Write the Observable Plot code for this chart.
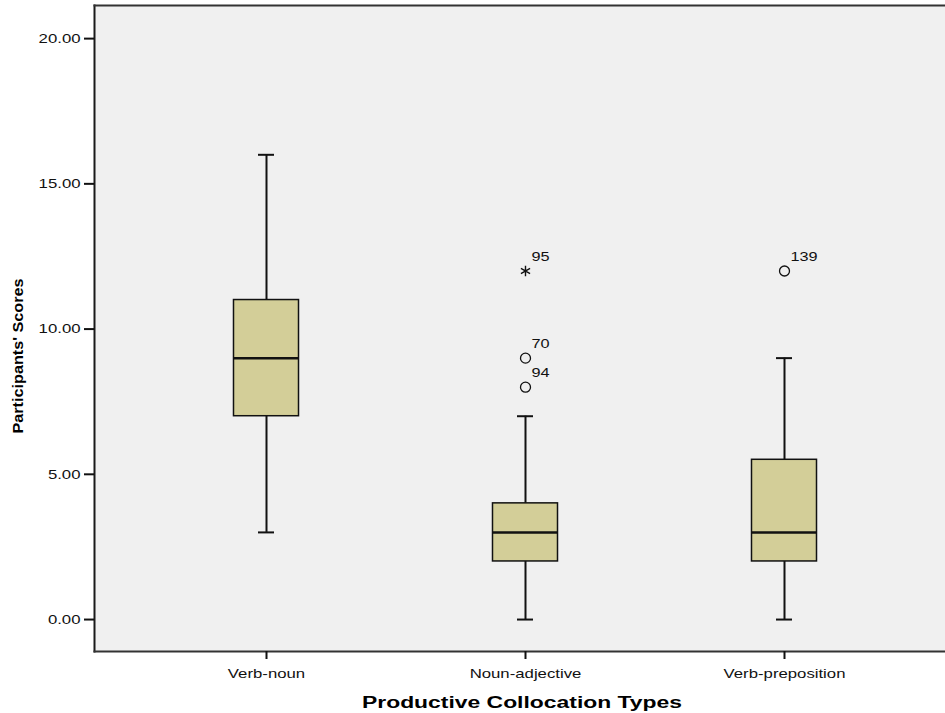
<!DOCTYPE html>
<html>
<head>
<meta charset="utf-8">
<script src="https://cdn.jsdelivr.net/npm/d3@7"></script>
<script src="https://cdn.jsdelivr.net/npm/@observablehq/plot@0.6"></script>
<style>
  html, body { margin: 0; padding: 0; background: #ffffff; }
  svg { display: block; }
</style>
</head>
<body>
<script>
// ---- data ----
const categories = ["Verb-noun", "Noun-adjective", "Verb-preposition"];
const whiskerLow = [3, 0, 0];
const quartile1 = [7, 2, 2];
const medians = [9, 3, 3];
const quartile3 = [11, 4, 5.5];
const whiskerHigh = [16, 7, 9];

const outlierCats = ["Noun-adjective", "Noun-adjective", "Noun-adjective", "Verb-preposition"];
const outlierValues = [12, 9, 8, 12];
const outlierIds = ["95", "70", "94", "139"];
const outlierKinds = ["extreme", "outlier", "outlier", "outlier"];

const yTicks = [0, 5, 10, 15, 20];
const xTitle = "Productive Collocation Types";
const yTitle = "Participants' Scores";

// tables built from the arrays
const stats = categories.map((c, i) => ({
  cat: c, lo: whiskerLow[i], q1: quartile1[i], med: medians[i], q3: quartile3[i], hi: whiskerHigh[i]
}));
const outliers = outlierCats.map((c, i) => ({
  cat: c, value: outlierValues[i], id: outlierIds[i], kind: outlierKinds[i]
}));
const circles = outliers.filter(d => d.kind === "outlier");
const extremes = outliers.filter(d => d.kind === "extreme");

const ink = "#111111";

const chart = Plot.plot({
  width: 945,
  height: 713,
  marginLeft: 94,
  marginRight: 0,
  marginTop: 5,
  marginBottom: 62,
  style: { fontFamily: "'Liberation Sans', Arial, sans-serif", background: "#ffffff", color: ink },
  x: {
    type: "band",
    domain: categories,
    range: [136.5, 913.5],
    paddingInner: 0.749,
    paddingOuter: 0.3745,
    round: false,
    label: null
  },
  y: { domain: [-1.10, 21.14], label: null },
  marks: [
    Plot.frame({ fill: "#f0f0f0" }),
    // whiskers
    Plot.ruleX(stats, { x: "cat", y1: "lo", y2: "q1", stroke: ink, strokeWidth: 2 }),
    Plot.ruleX(stats, { x: "cat", y1: "q3", y2: "hi", stroke: ink, strokeWidth: 2 }),
    Plot.tickY(stats, { x: "cat", y: "lo", stroke: ink, strokeWidth: 2, inset: 24.5 }),
    Plot.tickY(stats, { x: "cat", y: "hi", stroke: ink, strokeWidth: 2, inset: 24.5 }),
    // boxes
    Plot.barY(stats, { x: "cat", y1: "q1", y2: "q3", fill: "#d3ce98", stroke: ink, strokeWidth: 1.5 }),
    Plot.tickY(stats, { x: "cat", y: "med", stroke: ink, strokeWidth: 2.5 }),
    // outliers
    Plot.dot(circles, { x: "cat", y: "value", r: 5, stroke: ink, strokeWidth: 1.3, fill: "none" }),
    Plot.dot(extremes, { x: "cat", y: "value", r: 5, symbol: "asterisk", stroke: ink, strokeWidth: 1.4 }),
    Plot.text(outliers, {
      x: "cat", y: "value", text: "id", textAnchor: "start", lineAnchor: "bottom",
      dx: 6, dy: -10, fontSize: 12.5, fill: ink
    }),
    // frame borders (left, top, bottom)
    Plot.frame({ anchor: "left", stroke: "#1a1a1a", strokeWidth: 2 }),
    Plot.frame({ anchor: "top", stroke: "#333333", strokeWidth: 2 }),
    Plot.frame({ anchor: "bottom", stroke: "#333333", strokeWidth: 2 }),
    // axes
    Plot.axisY({
      ticks: yTicks, tickFormat: d => d.toFixed(2), tickSize: 10, tickPadding: 4,
      fontSize: 13.5, strokeWidth: 2, stroke: ink, label: null
    }),
    Plot.axisX({ tickSize: 8, tickPadding: 9, fontSize: 13.5, strokeWidth: 2, stroke: ink, label: null }),
    // axis titles
    Plot.text([yTitle], {
      frameAnchor: "left", text: d => d, rotate: -90, textAnchor: "start", dx: -76, dy: 105,
      fontSize: 15, fontWeight: "bold", fill: "#000"
    }),
    Plot.text([xTitle], {
      frameAnchor: "bottom", text: d => d, dx: 2, dy: 56,
      fontSize: 16, fontWeight: "bold", fill: "#000"
    })
  ]
});

document.body.appendChild(chart);

// widen the glyphs like the reference's stretched rendering
chart.querySelectorAll("text").forEach(t => {
  const fs = parseFloat(getComputedStyle(t).fontSize);
  let k = 1.24;
  if (fs >= 15.5) k = 1.43;
  else if (fs >= 14.5) k = 1.08;
  else if (fs <= 12.6) k = 1.3;
  const w = t.getComputedTextLength();
  if (w > 0) {
    t.setAttribute("textLength", (w * k).toFixed(1));
    t.setAttribute("lengthAdjust", "spacingAndGlyphs");
  }
});
</script>
</body>
</html>
